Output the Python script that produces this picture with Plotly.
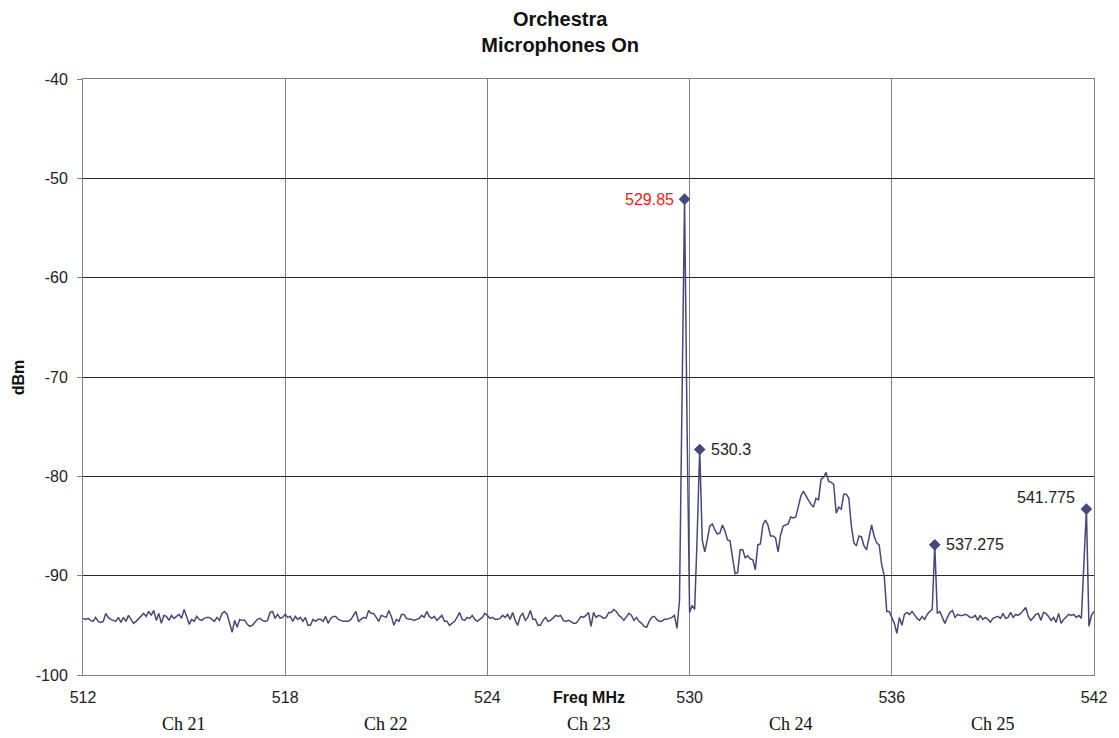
import numpy as np
import plotly.graph_objects as go

# Sweep definition (spectrum analyser, 401 points)
sweep_start_mhz = 512.0
sweep_stop_mhz = 542.0
n_points = 401

level_dbm = [
    # 512.000 - 516.425
    -94.3, -94.4, -94.3, -94.5, -94.6, -94.2, -94.6, -94.7, -94.6, -93.8,
    -94.2, -94.4, -94.5, -94.6, -94.2, -94.7, -94.2, -94.6, -94.0, -94.4,
    -94.8, -94.6, -94.3, -94.1, -93.8, -94.1, -93.6, -94.0, -93.5, -94.5,
    -93.8, -94.8, -94.0, -94.1, -94.5, -94.0, -94.3, -94.1, -93.9, -94.3,
    -93.4, -94.1, -94.9, -94.4, -94.6, -94.1, -94.4, -94.5, -94.3, -94.2,
    -94.2, -94.4, -94.6, -94.2, -94.5, -93.8, -93.6, -93.9, -94.8, -95.7,
    # 516.500 - 520.925
    -94.5, -95.2, -94.4, -94.5, -94.5, -94.9, -95.1, -95.0, -94.7, -94.4,
    -94.3, -94.5, -94.6, -94.5, -93.7, -93.6, -94.3, -93.9, -94.3, -94.2,
    -93.9, -94.2, -94.1, -94.6, -94.1, -94.4, -94.2, -94.6, -94.2, -95.0,
    -95.0, -94.4, -94.6, -94.4, -94.4, -94.6, -94.1, -94.8, -94.3, -94.1,
    -94.1, -94.4, -94.5, -94.6, -94.6, -94.6, -94.4, -94.0, -93.6, -94.6,
    -94.4, -94.2, -94.3, -93.5, -93.8, -93.8, -94.2, -94.6, -94.0, -94.1,
    # 521.000 - 525.275
    -94.2, -93.5, -94.1, -95.0, -94.4, -94.6, -93.9, -93.9, -94.3, -94.4,
    -94.4, -94.5, -94.4, -94.3, -94.0, -94.2, -93.6, -94.1, -94.3, -94.1,
    -94.5, -94.2, -94.0, -94.6, -94.6, -95.0, -94.8, -94.6, -94.2, -93.7,
    -94.4, -94.5, -94.2, -94.3, -94.0, -94.4, -94.6, -94.4, -94.2, -93.8,
    -94.0, -94.3, -94.2, -94.4, -94.4, -94.3, -94.0, -94.2, -93.9, -94.4,
    -93.7, -94.5, -95.0, -94.1, -93.8, -94.5, -94.2, -93.5,
    # 525.350 - 529.775
    -94.4, -94.4, -95.0, -95.0, -94.5, -94.2, -94.6, -94.5, -94.2, -94.0,
    -94.1, -94.0, -94.5, -94.6, -94.5, -94.6, -94.8, -94.8, -94.5, -94.1,
    -94.2, -94.0, -93.7, -95.1, -93.7, -94.2, -94.0, -94.1, -94.3, -94.2,
    -93.7, -93.7, -93.4, -93.6, -94.0, -94.2, -94.5, -94.2, -93.8, -94.0,
    -94.5, -94.2, -94.6, -94.8, -95.1, -95.2, -94.6, -94.2, -94.1, -94.4,
    -94.6, -94.6, -94.4, -94.4, -94.3, -94.2, -94.0, -95.3, -92.5, -72.5,
    # 529.850 - 532.775
    -52.1, -75.0, -93.7, -93.0, -93.4, -86.0, -77.3, -86.4, -87.6, -86.4,
    -85.0, -84.8, -85.4, -85.8, -85.7, -84.9, -85.5, -86.4, -86.5, -88.2,
    -89.8, -89.7, -87.4, -87.4, -88.2, -88.0, -88.3, -88.4, -89.4, -86.9,
    -86.8, -84.9, -84.4, -84.9, -86.0, -86.0, -86.2, -87.6, -85.9, -85.0,
    # 532.850 - 535.775
    -84.9, -84.8, -84.1, -84.2, -84.1, -82.9, -82.0, -81.5, -82.0, -82.4,
    -82.8, -83.1, -82.2, -82.4, -80.3, -80.1, -79.6, -80.5, -80.6, -80.8,
    -83.7, -83.1, -83.3, -81.8, -81.8, -82.2, -85.0, -86.7, -87.0, -86.0,
    -86.1, -87.0, -87.4, -86.0, -84.9, -86.0, -86.7, -86.9, -88.9, -90.0,
    # 535.850 - 542.000
    -93.6, -93.6, -94.2, -94.8, -95.8, -94.2, -95.0, -93.9, -93.7, -93.9,
    -93.6, -94.0, -94.3, -94.5, -94.1, -94.4, -93.9, -93.6, -93.4, -86.9,
    -93.8, -93.6, -94.2, -94.8, -94.2, -93.7, -93.5, -94.2, -93.9, -94.0,
    -94.0, -93.9, -94.0, -94.2, -94.2, -94.0, -94.5, -94.0, -94.4, -94.2,
    -94.4, -94.7, -94.3, -94.2, -94.1, -94.3, -93.8, -94.3, -94.2, -93.7,
    -94.2, -93.9, -94.0, -93.8, -93.5, -93.2, -94.1, -94.5, -94.2, -93.9,
    -93.8, -94.5, -93.7, -93.8, -94.1, -94.5, -94.2, -94.7, -93.8, -94.8,
    -94.4, -94.1, -93.9, -94.0, -93.9, -94.2, -94.0, -94.3, -89.0, -83.3,
    -95.1, -94.0, -93.6,
]

# Marked peaks
peak_freqs = [529.85, 530.3, 537.275, 541.775]
peak_levels = [-52.1, -77.3, -86.9, -83.3]
peak_labels = ["529.85", "530.3", "537.275", "541.775"]
peak_label_colors = ["#ED1C24", "#222222", "#222222", "#222222"]

# Axis ticks and channel labels
x_ticks = [512, 518, 524, 530, 536, 542]
y_ticks = [-100, -90, -80, -70, -60, -50, -40]
channel_names = ["Ch 21", "Ch 22", "Ch 23", "Ch 24", "Ch 25"]
channel_centers = [515, 521, 527, 533, 539]

freqs = np.linspace(sweep_start_mhz, sweep_stop_mhz, n_points)
assert len(level_dbm) == n_points, len(level_dbm)

trace_color = "#474879"
sans = "Arial, Liberation Sans, sans-serif"
serif = "Times New Roman, Liberation Serif, serif"

fig = go.Figure()
fig.add_trace(go.Scatter(
    x=freqs, y=level_dbm, mode="lines",
    line=dict(color=trace_color, width=1.5),
    hoverinfo="x+y", showlegend=False,
))
fig.add_trace(go.Scatter(
    x=peak_freqs, y=peak_levels, mode="markers",
    marker=dict(symbol="diamond", size=9, color=trace_color),
    showlegend=False,
))

annotations = []
# peak labels
label_pos = [
    dict(xanchor="right", xshift=-9, yshift=0),
    dict(xanchor="left", xshift=9, yshift=0),
    dict(xanchor="left", xshift=9, yshift=0),
    dict(xanchor="right", xshift=-9, yshift=12),
]
for f, v, t, c, p in zip(peak_freqs, peak_levels, peak_labels, peak_label_colors, label_pos):
    annotations.append(dict(
        x=f, y=v, xref="x", yref="y", text=t, showarrow=False,
        font=dict(family=sans, size=16, color=c),
        yanchor="middle", **p,
    ))
# channel labels
for name, cx in zip(channel_names, channel_centers):
    annotations.append(dict(
        x=cx, y=-0.082, xref="x", yref="paper", text=name, showarrow=False,
        font=dict(family=serif, size=18, color="#111111"),
        xanchor="center", yanchor="middle",
    ))
# axis titles
annotations.append(dict(
    x=0.5, y=-0.037, xref="paper", yref="paper", text="<b>Freq MHz</b>",
    showarrow=False, font=dict(family=sans, size=16, color="#111111"),
    xanchor="center", yanchor="middle",
))
annotations.append(dict(
    x=-0.064, y=0.5, xref="paper", yref="paper", text="<b>dBm</b>",
    showarrow=False, textangle=-90, font=dict(family=sans, size=16, color="#111111"),
    xanchor="center", yanchor="middle",
))

fig.update_layout(
    width=1111, height=730,
    margin=dict(l=75, r=18, t=71, b=63),
    paper_bgcolor="white", plot_bgcolor="white",
    title=dict(
        text="<b>Orchestra</b><br><b>Microphones On</b>",
        x=0.497, xanchor="center", y=0.9755, yanchor="top",
        font=dict(family=sans, size=20, color="#111111"),
    ),
    font=dict(family=sans, size=16, color="#222222"),
    annotations=annotations,
    xaxis=dict(
        range=[sweep_start_mhz, sweep_stop_mhz], tickvals=x_ticks,
        ticktext=[str(v) for v in x_ticks],
        showgrid=True, gridcolor="#808080", gridwidth=1,
        showline=True, linecolor="#808080", linewidth=1, mirror=True,
        ticks="", ticklabelstandoff=8, zeroline=False,
        tickfont=dict(family=sans, size=16, color="#222222"),
    ),
    yaxis=dict(
        range=[-100, -40], tickvals=y_ticks,
        ticktext=[str(v) for v in y_ticks],
        showgrid=True, gridcolor="#262626", gridwidth=1,
        showline=True, linecolor="#808080", linewidth=1, mirror=True,
        ticks="outside", ticklen=5, tickcolor="#808080",
        ticklabelstandoff=6, zeroline=False,
        tickfont=dict(family=sans, size=16, color="#222222"),
    ),
)

fig.write_html("out.html")
